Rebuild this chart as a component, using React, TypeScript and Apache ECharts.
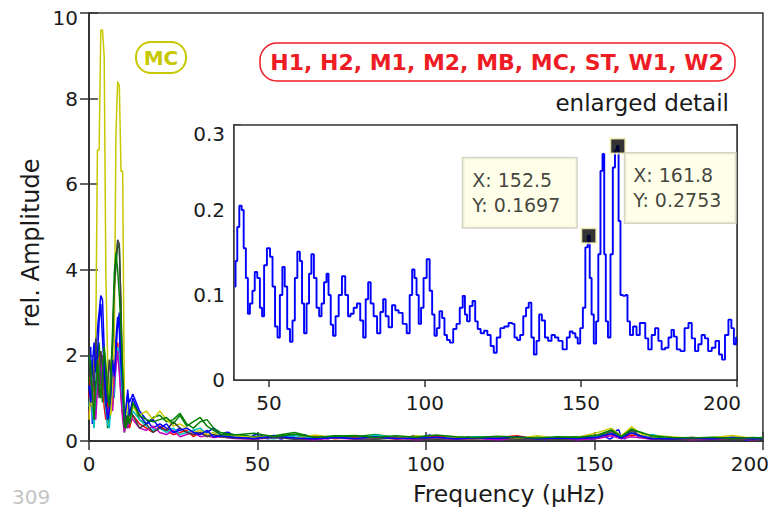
import React, { useEffect, useRef } from 'react';
import * as echarts from 'echarts';

const FONT = 'DejaVu Sans';

// Main panel: star names and MATLAB colour order
const SERIES_NAMES = ['H1', 'H2', 'M1', 'M2', 'MB', 'MC', 'ST', 'W1', 'W2'];
const SERIES_COLORS = ['#0000ff', '#008000', '#ff0000', '#00bfbf', '#bf00bf', '#c8c800', '#404040', '#0000ff', '#008000'];

// Frequency grids (µHz) of the main panel
const FREQ_LOW = [0, 0.5, 1, 1.5, 2, 2.5, 3, 3.5, 4, 4.5, 5, 5.5, 6, 6.5, 7, 7.5, 8, 8.5, 9, 9.5, 10, 10.5, 11, 11.5, 12];
const FREQ_MID = [13, 15, 17, 19, 21, 23, 25, 27, 29, 31, 33, 35, 37, 39];
const FREQ_TAIL = [43, 49, 55, 61, 67, 73, 79, 85, 91, 97, 103, 109, 115, 121, 127, 133, 139, 145, 151, 155, 158, 161, 164, 167, 173, 179, 185, 191, 197, 200];

// rel. amplitude, low-frequency part
const H1_LOW = [1.9, 2.2, 0.4, 1.2, 2.1, 2.6, 3.0, 3.4, 3.3, 2.2, 1.3, 0.9, 0.5, 0.9, 1.6, 1.2, 2.4, 2.9, 2.6, 1.4, 1.0, 0.4, 0.7, 1.1, 0.9];
const H2_LOW = [1.5, 0.8, 1.9, 1.2, 0.6, 1.7, 2.3, 1.5, 0.9, 2.0, 1.4, 0.3, 0.9, 1.8, 2.2, 3.5, 4.1, 4.6, 4.5, 3.2, 1.1, 0.2, 0.5, 0.3, 0.6];
const M1_LOW = [1.0, 1.6, 0.9, 0.6, 1.4, 1.1, 1.8, 2.1, 1.5, 0.8, 0.5, 0.9, 0.6, 1.2, 0.8, 1.6, 2.0, 2.3, 1.7, 1.1, 0.6, 0.3, 0.4, 0.5, 0.3];
const M2_LOW = [0.8, 1.3, 0.7, 0.3, 1.0, 1.5, 1.2, 2.0, 1.7, 1.1, 0.7, 0.4, 0.3, 0.8, 1.3, 1.0, 1.8, 2.2, 1.9, 1.3, 0.8, 0.3, 0.5, 0.7, 0.4];
const MB_LOW = [0.6, 1.1, 1.4, 0.8, 0.5, 1.2, 1.6, 1.3, 2.0, 1.4, 0.9, 0.6, 0.8, 1.0, 0.7, 1.4, 1.7, 2.1, 1.6, 1.0, 0.5, 0.2, 0.4, 0.3, 0.5];
const MC_LOW = [0.5, 1.2, 0.8, 1.9, 2.3, 6.8, 6.8, 9.6, 9.6, 9.0, 3.9, 2.0, 0.9, 0.6, 1.4, 2.2, 7.2, 8.4, 8.3, 6.3, 6.3, 0.8, 0.6, 0.9, 0.5];
const ST_LOW = [2.2, 1.4, 0.9, 1.7, 2.4, 1.5, 1.0, 2.1, 1.8, 1.2, 0.8, 1.3, 1.9, 1.5, 2.3, 3.6, 4.2, 4.7, 4.6, 3.0, 1.4, 0.3, 0.6, 0.4, 0.7];
const W1_LOW = [1.3, 0.9, 1.8, 2.3, 1.6, 2.0, 2.8, 3.2, 2.4, 1.7, 1.0, 0.5, 0.7, 1.1, 1.9, 1.5, 2.1, 2.7, 3.0, 2.0, 1.3, 0.5, 0.8, 1.2, 0.6];
const W2_LOW = [2.0, 1.7, 1.1, 0.5, 1.3, 1.9, 1.4, 1.0, 1.6, 2.2, 1.8, 1.2, 0.8, 1.4, 2.6, 3.9, 4.4, 4.0, 3.4, 2.6, 1.6, 0.4, 0.3, 0.6, 0.4];

// rel. amplitude, 13-39 µHz
const H1_MID = [1.1, 0.7, 0.5, 0.3, 0.4, 0.3, 0.2, 0.3, 0.2, 0.25, 0.15, 0.2, 0.3, 0.15];
const H2_MID = [0.9, 0.5, 0.4, 0.55, 0.6, 0.45, 0.5, 0.65, 0.4, 0.3, 0.45, 0.5, 0.3, 0.2];
const M1_MID = [0.6, 0.4, 0.3, 0.2, 0.35, 0.25, 0.15, 0.2, 0.25, 0.1, 0.2, 0.15, 0.1, 0.12];
const M2_MID = [0.7, 0.5, 0.35, 0.25, 0.3, 0.2, 0.3, 0.15, 0.2, 0.25, 0.3, 0.15, 0.1, 0.15];
const MB_MID = [0.5, 0.3, 0.25, 0.35, 0.2, 0.15, 0.25, 0.1, 0.15, 0.2, 0.1, 0.12, 0.08, 0.1];
const MC_MID = [0.8, 0.6, 0.7, 0.5, 0.7, 0.5, 0.35, 0.4, 0.3, 0.2, 0.25, 0.15, 0.2, 0.1];
const ST_MID = [0.6, 0.3, 0.4, 0.2, 0.3, 0.25, 0.45, 0.3, 0.2, 0.15, 0.2, 0.1, 0.15, 0.1];
const W1_MID = [1.0, 0.6, 0.4, 0.5, 0.3, 0.4, 0.2, 0.25, 0.3, 0.2, 0.15, 0.25, 0.1, 0.12];
const W2_MID = [0.9, 0.6, 0.5, 0.45, 0.5, 0.55, 0.4, 0.6, 0.35, 0.45, 0.55, 0.35, 0.25, 0.15];

// rel. amplitude, 43-200 µHz (H1 uses the enlarged-detail spectrum)
const H2_TAIL = [0.15, 0.1, 0.12, 0.2, 0.08, 0.12, 0.1, 0.15, 0.08, 0.1, 0.12, 0.07, 0.09, 0.1, 0.08, 0.06, 0.08, 0.1, 0.12, 0.25, 0.1, 0.28, 0.18, 0.1, 0.07, 0.08, 0.06, 0.09, 0.07, 0.08];
const M1_TAIL = [0.08, 0.05, 0.1, 0.06, 0.12, 0.05, 0.08, 0.1, 0.04, 0.07, 0.11, 0.05, 0.06, 0.08, 0.12, 0.04, 0.06, 0.05, 0.1, 0.15, 0.08, 0.14, 0.12, 0.06, 0.05, 0.08, 0.04, 0.06, 0.05, 0.04];
const M2_TAIL = [0.1, 0.07, 0.05, 0.12, 0.06, 0.09, 0.05, 0.14, 0.07, 0.05, 0.08, 0.06, 0.1, 0.05, 0.07, 0.09, 0.05, 0.07, 0.1, 0.18, 0.12, 0.2, 0.1, 0.15, 0.06, 0.05, 0.07, 0.05, 0.06, 0.05];
const MB_TAIL = [0.06, 0.04, 0.08, 0.05, 0.03, 0.07, 0.04, 0.05, 0.08, 0.03, 0.05, 0.04, 0.06, 0.03, 0.05, 0.04, 0.07, 0.03, 0.06, 0.12, 0.05, 0.1, 0.07, 0.04, 0.05, 0.03, 0.04, 0.05, 0.03, 0.04];
const MC_TAIL = [0.12, 0.08, 0.1, 0.06, 0.14, 0.07, 0.06, 0.09, 0.05, 0.12, 0.07, 0.1, 0.06, 0.08, 0.05, 0.12, 0.06, 0.08, 0.2, 0.3, 0.12, 0.33, 0.16, 0.12, 0.1, 0.06, 0.08, 0.13, 0.06, 0.05];
const ST_TAIL = [0.07, 0.05, 0.09, 0.04, 0.06, 0.08, 0.05, 0.04, 0.07, 0.05, 0.04, 0.06, 0.05, 0.07, 0.04, 0.05, 0.04, 0.06, 0.08, 0.22, 0.06, 0.24, 0.1, 0.05, 0.04, 0.05, 0.06, 0.04, 0.05, 0.04];
const W1_TAIL = [0.09, 0.06, 0.11, 0.07, 0.05, 0.08, 0.06, 0.1, 0.05, 0.07, 0.09, 0.05, 0.08, 0.06, 0.1, 0.05, 0.07, 0.06, 0.09, 0.17, 0.07, 0.19, 0.11, 0.06, 0.05, 0.07, 0.05, 0.08, 0.05, 0.06];
const W2_TAIL = [0.14, 0.18, 0.1, 0.16, 0.09, 0.11, 0.13, 0.08, 0.12, 0.09, 0.14, 0.1, 0.08, 0.11, 0.09, 0.07, 0.1, 0.08, 0.14, 0.26, 0.11, 0.27, 0.2, 0.12, 0.08, 0.07, 0.09, 0.06, 0.08, 0.07];

// Enlarged detail spectrum
const INSET_FREQ = [39.0, 39.6, 40.1, 40.9, 41.6, 42.2, 43.0, 43.5, 44.3, 45.1, 45.8, 46.7, 47.5, 48.1, 48.8, 49.9, 50.8, 51.5, 52.4, 53.1, 53.9, 54.7, 55.4, 56.3, 57.2, 57.9, 58.7, 59.5, 60.3, 60.9, 61.6, 62.5, 63.2, 64.0, 64.8, 65.7, 66.5, 67.2, 68.1, 68.8, 69.4, 70.2, 70.9, 71.8, 72.9, 73.9, 75.0, 75.7, 76.6, 77.7, 78.7, 79.8, 80.6, 81.4, 82.2, 83.0, 84.1, 85.2, 86.2, 87.0, 87.8, 88.9, 90.0, 91.0, 92.1, 93.6, 94.7, 95.5, 96.3, 97.0, 97.6, 98.4, 99.1, 100.0, 101.1, 101.9, 102.7, 103.4, 104.2, 105.1, 105.9, 106.6, 107.5, 108.5, 109.6, 110.6, 111.7, 112.5, 113.1, 113.9, 114.8, 115.7, 116.5, 117.3, 118.4, 119.5, 120.5, 121.6, 122.5, 123.5, 124.8, 126.0, 127.6, 128.3, 129.1, 130.0, 131.0, 132.0, 132.8, 133.7, 134.5, 135.3, 136.2, 137.0, 137.9, 139.0, 140.0, 141.1, 142.2, 143.3, 144.9, 146.0, 146.8, 147.8, 148.6, 149.3, 150.2, 151.0, 151.8, 152.5, 153.1, 153.7, 154.5, 155.2, 155.9, 156.6, 157.2, 157.7, 158.2, 159.1, 159.8, 160.6, 161.2, 161.8, 162.3, 163.0, 163.9, 164.6, 165.2, 166.2, 167.2, 168.4, 169.3, 170.2, 171.0, 172.1, 173.2, 174.3, 175.3, 176.4, 177.5, 178.6, 179.4, 180.2, 181.2, 182.5, 183.9, 185.0, 186.0, 187.1, 188.1, 189.2, 190.2, 191.3, 192.5, 193.7, 194.8, 195.6, 196.7, 197.8, 198.6, 199.4, 200.0];
const INSET_AMP = [0.11, 0.14, 0.18, 0.205, 0.2, 0.155, 0.12, 0.078, 0.09, 0.105, 0.127, 0.12, 0.085, 0.075, 0.135, 0.155, 0.145, 0.11, 0.063, 0.05, 0.1, 0.133, 0.11, 0.06, 0.045, 0.07, 0.12, 0.151, 0.14, 0.09, 0.055, 0.09, 0.125, 0.148, 0.12, 0.085, 0.075, 0.09, 0.115, 0.125, 0.1, 0.065, 0.052, 0.075, 0.1, 0.122, 0.1, 0.075, 0.078, 0.085, 0.09, 0.07, 0.05, 0.095, 0.115, 0.09, 0.075, 0.055, 0.08, 0.095, 0.075, 0.062, 0.088, 0.082, 0.079, 0.066, 0.055, 0.1, 0.13, 0.12, 0.1, 0.066, 0.085, 0.12, 0.142, 0.105, 0.077, 0.052, 0.061, 0.081, 0.073, 0.053, 0.047, 0.044, 0.06, 0.066, 0.085, 0.099, 0.077, 0.069, 0.087, 0.093, 0.069, 0.06, 0.055, 0.058, 0.053, 0.04, 0.032, 0.05, 0.061, 0.063, 0.067, 0.066, 0.05, 0.047, 0.053, 0.075, 0.085, 0.091, 0.05, 0.03, 0.046, 0.077, 0.07, 0.05, 0.046, 0.053, 0.05, 0.046, 0.036, 0.05, 0.057, 0.055, 0.05, 0.043, 0.061, 0.085, 0.156, 0.1697, 0.12, 0.077, 0.043, 0.069, 0.148, 0.246, 0.266, 0.148, 0.069, 0.05, 0.148, 0.25, 0.27, 0.2753, 0.187, 0.1, 0.099, 0.1, 0.069, 0.053, 0.063, 0.053, 0.067, 0.067, 0.049, 0.036, 0.053, 0.061, 0.046, 0.036, 0.038, 0.05, 0.059, 0.051, 0.036, 0.034, 0.061, 0.067, 0.049, 0.034, 0.042, 0.053, 0.049, 0.034, 0.038, 0.046, 0.03, 0.024, 0.053, 0.071, 0.061, 0.042, 0.05];

// Data tips
const TIP_X = ['152.5', '161.8'];
const TIP_Y = ['0.1697', '0.2753'];

// Tick values
const INSET_X_TICKS = [50, 100, 150, 200];

const LOWS = [H1_LOW, H2_LOW, M1_LOW, M2_LOW, MB_LOW, MC_LOW, ST_LOW, W1_LOW, W2_LOW];
const MIDS = [H1_MID, H2_MID, M1_MID, M2_MID, MB_MID, MC_MID, ST_MID, W1_MID, W2_MID];
const TAILS = [null, H2_TAIL, M1_TAIL, M2_TAIL, MB_TAIL, MC_TAIL, ST_TAIL, W1_TAIL, W2_TAIL];

const zip = (xs: number[], ys: number[]) => xs.map((x, i) => [x, ys[i]]);

function buildOption() {
  const insetPairs = zip(INSET_FREQ, INSET_AMP);
  const mainSeries = SERIES_NAMES.map((name, i) => {
    const tail = TAILS[i];
    const data = [
      ...zip(FREQ_LOW, LOWS[i]),
      ...zip(FREQ_MID, MIDS[i]),
      ...(tail ? zip(FREQ_TAIL, tail) : insetPairs.filter((p) => p[0] > 39.5)),
    ];
    return {
      name,
      type: 'line',
      xAxisIndex: 0,
      yAxisIndex: 0,
      data,
      showSymbol: false,
      symbol: 'none',
      lineStyle: { color: SERIES_COLORS[i], width: 1.5 },
      itemStyle: { color: SERIES_COLORS[i] },
      z: 2,
    };
  });

  const tickLabel = { fontFamily: FONT, fontSize: 20, color: '#1a1a1a' };
  const axisLine = { show: true, lineStyle: { color: '#333', width: 1.5 } };
  const mainTick = { show: true, inside: true, length: 9, lineStyle: { color: '#333', width: 1.5 } };
  const insetTick = { show: true, inside: true, length: 7, lineStyle: { color: '#333', width: 1.5 } };

  const tipLabelBase = {
    show: true,
    backgroundColor: '#ffffe4',
    borderColor: '#c9c9b6',
    borderWidth: 1.5,
    fontFamily: FONT,
    fontSize: 19,
    lineHeight: 25,
    color: '#111',
    align: 'left',
    verticalAlign: 'top',
  };

  return {
    animation: false,
    backgroundColor: '#ffffff',
    grid: [
      { left: 89, top: 13, width: 678, height: 428, show: true, backgroundColor: '#fff', borderColor: '#333', borderWidth: 1.5 },
      { left: 234, top: 125, width: 503, height: 255, show: true, backgroundColor: '#fff', borderColor: '#333', borderWidth: 1.5, z: 3 },
    ],
    xAxis: [
      {
        gridIndex: 0, type: 'value', min: 0, max: 200, interval: 50, position: 'bottom',
        axisLine, axisTick: mainTick, splitLine: { show: false },
        axisLabel: {
          ...tickLabel, margin: 13,
          formatter: (v: number) => (v === 200 ? '{e|200}' : String(v)),
          rich: { e: { ...tickLabel, padding: [0, 26, 0, 0] } },
        },
      },
      {
        gridIndex: 0, type: 'value', min: 0, max: 200, interval: 50, position: 'top',
        axisLine, axisTick: mainTick, splitLine: { show: false }, axisLabel: { show: false },
      },
      {
        gridIndex: 1, type: 'value', min: 38.8, max: 200, position: 'bottom',
        axisLine, axisTick: { ...insetTick, customValues: INSET_X_TICKS }, splitLine: { show: false },
        axisLabel: {
          ...tickLabel, margin: 13, customValues: INSET_X_TICKS,
          formatter: (v: number) => (v === 200 ? '{e|200}' : String(v)),
          rich: { e: { ...tickLabel, padding: [0, 30, 0, 0] } },
        },
      },
      {
        gridIndex: 1, type: 'value', min: 38.8, max: 200, position: 'top',
        axisLine, axisTick: { ...insetTick, customValues: INSET_X_TICKS }, splitLine: { show: false },
        axisLabel: { show: false },
      },
    ],
    yAxis: [
      {
        gridIndex: 0, type: 'value', min: 0, max: 10, interval: 2, position: 'left',
        axisLine, axisTick: mainTick, splitLine: { show: false },
        axisLabel: {
          ...tickLabel, margin: 11,
          formatter: (v: number) => (v === 10 ? '{t|10}' : String(v)),
          rich: { t: { ...tickLabel, padding: [10, 0, 0, 0] } },
        },
      },
      {
        gridIndex: 0, type: 'value', min: 0, max: 10, interval: 2, position: 'right',
        axisLine, axisTick: mainTick, splitLine: { show: false }, axisLabel: { show: false },
      },
      {
        gridIndex: 1, type: 'value', min: 0, max: 0.3, interval: 0.1, position: 'left',
        axisLine, axisTick: insetTick, splitLine: { show: false },
        axisLabel: {
          ...tickLabel, margin: 9,
          formatter: (v: number) => {
            const s = String(Math.round(v * 10) / 10);
            return s === '0.3' ? '{t|0.3}' : s;
          },
          rich: { t: { ...tickLabel, padding: [18, 0, 0, 0] } },
        },
      },
      {
        gridIndex: 1, type: 'value', min: 0, max: 0.3, interval: 0.1, position: 'right',
        axisLine, axisTick: insetTick, splitLine: { show: false }, axisLabel: { show: false },
      },
    ],
    series: [
      ...mainSeries,
      {
        name: 'detail',
        type: 'line',
        xAxisIndex: 2,
        yAxisIndex: 2,
        data: insetPairs,
        step: 'middle',
        showSymbol: false,
        symbol: 'none',
        lineStyle: { color: '#0000ff', width: 1.9 },
        z: 4,
      },
      {
        name: 'tips',
        type: 'scatter',
        xAxisIndex: 2,
        yAxisIndex: 2,
        symbol: 'rect',
        symbolSize: 15,
        itemStyle: { color: '#000', borderColor: '#ffffc4', borderWidth: 2 },
        z: 6,
        data: [
          {
            value: [Number(TIP_X[0]), Number(TIP_Y[0])],
            label: { ...tipLabelBase, padding: [9, 16, 10, 9], position: [-117, -69], formatter: () => `X: ${TIP_X[0]}\nY: ${TIP_Y[0]}` },
          },
          {
            value: [Number(TIP_X[1]), Number(TIP_Y[1])],
            label: { ...tipLabelBase, padding: [9, 14, 10, 8], position: [16, 16], formatter: () => `X: ${TIP_X[1]}\nY: ${TIP_Y[1]}` },
          },
        ],
      },
    ],
    graphic: [
      { type: 'rect', shape: { x: 136, y: 42, width: 50, height: 31, r: 15 }, style: { fill: 'none', stroke: '#c8c800', lineWidth: 2 }, z: 10 },
      { type: 'text', x: 161, y: 58, style: { text: 'MC', fill: '#c8c800', fontFamily: FONT, fontWeight: 'bold', fontSize: 20, align: 'center', verticalAlign: 'middle', textAlign: 'center', textVerticalAlign: 'middle' }, z: 10 },
      { type: 'rect', shape: { x: 260, y: 43, width: 475, height: 38, r: 17 }, style: { fill: 'none', stroke: '#ee1c25', lineWidth: 1.5 }, z: 10 },
      { type: 'text', x: 497, y: 62, style: { text: 'H1, H2, M1, M2, MB, MC, ST, W1, W2', fill: '#ee1c25', fontFamily: FONT, fontWeight: 'bold', fontSize: 22, align: 'center', verticalAlign: 'middle', textAlign: 'center', textVerticalAlign: 'middle' }, z: 10 },
      { type: 'text', x: 729, y: 103, style: { text: 'enlarged detail', fill: '#1a1a1a', fontFamily: FONT, fontSize: 23, align: 'right', verticalAlign: 'middle', textAlign: 'right', textVerticalAlign: 'middle' }, z: 10 },
      { type: 'text', x: 509, y: 494, style: { text: 'Frequency (µHz)', fill: '#1a1a1a', fontFamily: FONT, fontSize: 23.5, align: 'center', verticalAlign: 'middle', textAlign: 'center', textVerticalAlign: 'middle' }, z: 10 },
      { type: 'text', x: 31, y: 243, rotation: Math.PI / 2, style: { text: 'rel. Amplitude', fill: '#1a1a1a', fontFamily: FONT, fontSize: 24, align: 'center', verticalAlign: 'middle', textAlign: 'center', textVerticalAlign: 'middle' }, z: 10 },
      { type: 'text', x: 12, y: 497, style: { text: '309', fill: '#c4c4c4', fontFamily: FONT, fontSize: 20, align: 'left', verticalAlign: 'middle', textAlign: 'left', textVerticalAlign: 'middle' }, z: 10 },
    ],
  };
}

export default function App() {
  const ref = useRef<HTMLDivElement>(null);
  useEffect(() => {
    if (!ref.current) return;
    const chart = echarts.init(ref.current, undefined, { renderer: 'svg' });
    chart.setOption(buildOption() as any);
    return () => chart.dispose();
  }, []);
  return (
    <div
      ref={ref}
      style={{ position: 'fixed', left: 0, top: 0, width: 772, height: 509, background: '#fff' }}
    />
  );
}
